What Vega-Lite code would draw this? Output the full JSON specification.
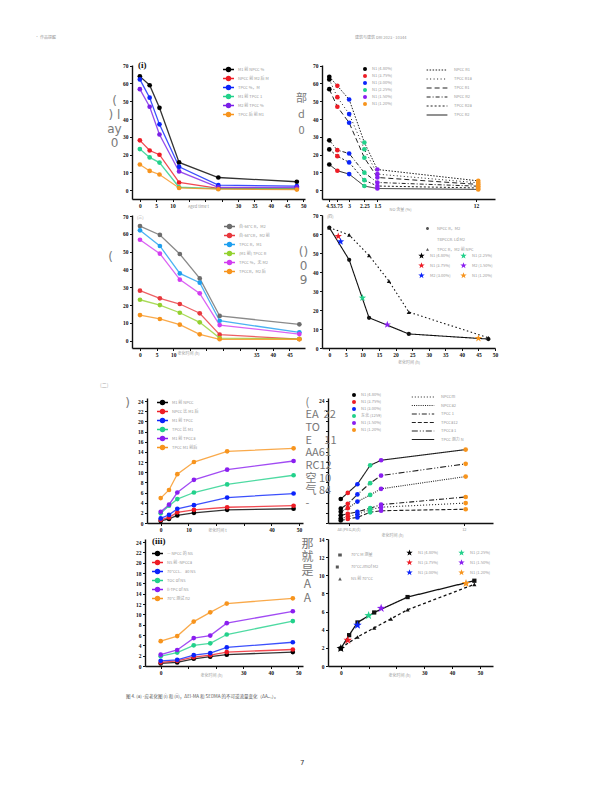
{
"$schema":"https://vega.github.io/schema/vega-lite/v6.json",
"background":"white",
"padding":{"left":35,"top":35,"right":5,"bottom":5},
"bounds":"flush",
"columns":2,
"align":"each",
"spacing":{"row":16,"column":23},
"resolve":{"scale":{"color":"independent","stroke":"independent","strokeDash":"independent","shape":"independent","fill":"independent"},"legend":{"color":"independent","stroke":"independent","strokeDash":"independent","shape":"independent","fill":"independent"}},
"title":{"text":"7","orient":"bottom","anchor":"start","frame":"group","dx":153,"offset":60,"fontSize":7,"font":"DejaVu Sans","color":"#333","fontWeight":"normal"},
"datasets":{
"A":[
{"s":"M1 前 NPCC %","t":0,"v":64},{"s":"M1 前 NPCC %","t":3,"v":59},{"s":"M1 前 NPCC %","t":6,"v":46.3},{"s":"M1 前 NPCC %","t":12,"v":15.6},{"s":"M1 前 NPCC %","t":24,"v":7.1},{"s":"M1 前 NPCC %","t":48,"v":4.7},
{"s":"NPCC 前 M2 后 M","t":0,"v":28},{"s":"NPCC 前 M2 后 M","t":3,"v":22.3},{"s":"NPCC 前 M2 后 M","t":6,"v":19.9},{"s":"NPCC 前 M2 后 M","t":12,"v":4.3},{"s":"NPCC 前 M2 后 M","t":24,"v":1.0},{"s":"NPCC 前 M2 后 M","t":48,"v":0.8},
{"s":"TPCC %，M","t":0,"v":62.3},{"s":"TPCC %，M","t":3,"v":52},{"s":"TPCC %，M","t":6,"v":37},{"s":"TPCC %，M","t":12,"v":13.1},{"s":"TPCC %，M","t":24,"v":2.8},{"s":"TPCC %，M","t":48,"v":2.2},
{"s":"M1 前 TPCC 1","t":0,"v":23.1},{"s":"M1 前 TPCC 1","t":3,"v":18.4},{"s":"M1 前 TPCC 1","t":6,"v":15.5},{"s":"M1 前 TPCC 1","t":12,"v":1.6},{"s":"M1 前 TPCC 1","t":24,"v":0.8},{"s":"M1 前 TPCC 1","t":48,"v":0.7},
{"s":"M2 前 TPCC %","t":0,"v":56.8},{"s":"M2 前 TPCC %","t":3,"v":46.9},{"s":"M2 前 TPCC %","t":6,"v":31.3},{"s":"M2 前 TPCC %","t":12,"v":10.5},{"s":"M2 前 TPCC %","t":24,"v":1.5},{"s":"M2 前 TPCC %","t":48,"v":1.5},
{"s":"TPCC 后 前 M1","t":0,"v":14.4},{"s":"TPCC 后 前 M1","t":3,"v":10.8},{"s":"TPCC 后 前 M1","t":6,"v":8.8},{"s":"TPCC 后 前 M1","t":12,"v":1.2},{"s":"TPCC 后 前 M1","t":24,"v":0.5},{"s":"TPCC 后 前 M1","t":48,"v":0.3}
],
"B":[
{"l":"NPCC R1","c":"N1 (4.80%)","x":0,"v":63.8},{"l":"NPCC R1","c":"N1 (3.75%)","x":2.6,"v":58.7},{"l":"NPCC R1","c":"N1 (3.00%)","x":6.4,"v":51},{"l":"NPCC R1","c":"N1 (2.25%)","x":11.3,"v":26.8},{"l":"NPCC R1","c":"N1 (1.50%)","x":15.5,"v":11.6},{"l":"NPCC R1","c":"N1 (1.20%)","x":48,"v":5.2},
{"l":"TPCC R1a","c":"N1 (4.80%)","x":0,"v":62.3},{"l":"TPCC R1a","c":"N1 (3.75%)","x":2.6,"v":52.3},{"l":"TPCC R1a","c":"N1 (3.00%)","x":6.4,"v":42.8},{"l":"TPCC R1a","c":"N1 (2.25%)","x":11.3,"v":23},{"l":"TPCC R1a","c":"N1 (1.50%)","x":15.5,"v":9},{"l":"TPCC R1a","c":"N1 (1.20%)","x":48,"v":4.1},
{"l":"TPCC R1","c":"N1 (4.80%)","x":0,"v":56.8},{"l":"TPCC R1","c":"N1 (3.75%)","x":2.6,"v":46.9},{"l":"TPCC R1","c":"N1 (3.00%)","x":6.4,"v":37.9},{"l":"TPCC R1","c":"N1 (2.25%)","x":11.3,"v":18.2},{"l":"TPCC R1","c":"N1 (1.50%)","x":15.5,"v":7.1},{"l":"TPCC R1","c":"N1 (1.20%)","x":48,"v":3.2},
{"l":"NPCC R2","c":"N1 (4.80%)","x":0,"v":28},{"l":"NPCC R2","c":"N1 (3.75%)","x":2.6,"v":22.5},{"l":"NPCC R2","c":"N1 (3.00%)","x":6.4,"v":20.6},{"l":"NPCC R2","c":"N1 (2.25%)","x":11.3,"v":9.8},{"l":"NPCC R2","c":"N1 (1.50%)","x":15.5,"v":4.3},{"l":"NPCC R2","c":"N1 (1.20%)","x":48,"v":2.2},
{"l":"TPCC R2a","c":"N1 (4.80%)","x":0,"v":22.9},{"l":"TPCC R2a","c":"N1 (3.75%)","x":2.6,"v":19.1},{"l":"TPCC R2a","c":"N1 (3.00%)","x":6.4,"v":15.6},{"l":"TPCC R2a","c":"N1 (2.25%)","x":11.3,"v":5.6},{"l":"TPCC R2a","c":"N1 (1.50%)","x":15.5,"v":2.3},{"l":"TPCC R2a","c":"N1 (1.20%)","x":48,"v":1.2},
{"l":"TPCC R2","c":"N1 (4.80%)","x":0,"v":14.4},{"l":"TPCC R2","c":"N1 (3.75%)","x":2.6,"v":10.9},{"l":"TPCC R2","c":"N1 (3.00%)","x":6.4,"v":9},{"l":"TPCC R2","c":"N1 (2.25%)","x":11.3,"v":2.3},{"l":"TPCC R2","c":"N1 (1.50%)","x":15.5,"v":0.9},{"l":"TPCC R2","c":"N1 (1.20%)","x":48,"v":0.4}
],
"C":[
{"s":"自-64°C R，M2","t":0,"v":64.4},{"s":"自-64°C R，M2","t":6,"v":59.4},{"s":"自-64°C R，M2","t":12,"v":48.7},{"s":"自-64°C R，M2","t":18,"v":35},{"s":"自-64°C R，M2","t":24,"v":13.9},{"s":"自-64°C R，M2","t":48,"v":9.2},
{"s":"自-64°CR，M2 前","t":0,"v":28.1},{"s":"自-64°CR，M2 前","t":6,"v":23.8},{"s":"自-64°CR，M2 前","t":12,"v":20.6},{"s":"自-64°CR，M2 前","t":18,"v":15.4},{"s":"自-64°CR，M2 前","t":24,"v":3.4},{"s":"自-64°CR，M2 前","t":48,"v":0.9},
{"s":"TPCC R，M1","t":0,"v":62},{"s":"TPCC R，M1","t":6,"v":53.2},{"s":"TPCC R，M1","t":12,"v":37.8},{"s":"TPCC R，M1","t":18,"v":32.6},{"s":"TPCC R，M1","t":24,"v":11.2},{"s":"TPCC R，M1","t":48,"v":4.7},
{"s":"(M1 前) TPCC R","t":0,"v":23},{"s":"(M1 前) TPCC R","t":6,"v":20},{"s":"(M1 前) TPCC R","t":12,"v":15.7},{"s":"(M1 前) TPCC R","t":18,"v":10.3},{"s":"(M1 前) TPCC R","t":24,"v":1.5},{"s":"(M1 前) TPCC R","t":48,"v":1.0},
{"s":"TPCC %，无 M2","t":0,"v":56.7},{"s":"TPCC %，无 M2","t":6,"v":48.9},{"s":"TPCC %，无 M2","t":12,"v":34.3},{"s":"TPCC %，无 M2","t":18,"v":26.6},{"s":"TPCC %，无 M2","t":24,"v":8.8},{"s":"TPCC %，无 M2","t":48,"v":3.7},
{"s":"TPCCR，M2 后","t":0,"v":14.4},{"s":"TPCCR，M2 后","t":6,"v":12.2},{"s":"TPCCR，M2 后","t":12,"v":9},{"s":"TPCCR，M2 后","t":18,"v":3.6},{"s":"TPCCR，M2 后","t":24,"v":0.8},{"s":"TPCCR，M2 后","t":48,"v":0.8}
],
"DL":[
{"s":"NPCC R，M2","t":0,"v":63.4},{"s":"NPCC R，M2","t":6,"v":46.4},{"s":"NPCC R，M2","t":12,"v":15.9},{"s":"NPCC R，M2","t":24,"v":7.4},{"s":"NPCC R，M2","t":48,"v":4.7},
{"s":"TPCC R，M2 前 NPC","t":0,"v":63.4},{"s":"TPCC R，M2 前 NPC","t":6,"v":59.5},{"s":"TPCC R，M2 前 NPC","t":12,"v":48.7},{"s":"TPCC R，M2 前 NPC","t":18,"v":35.2},{"s":"TPCC R，M2 前 NPC","t":24,"v":18.9},{"s":"TPCC R，M2 前 NPC","t":48,"v":5.4}
],
"DS":[
{"c":"N1 (3.75%)","t":2.7,"v":58.8},{"c":"M2 (3.00%)","t":3.4,"v":56},{"c":"N1 (2.25%)","t":10,"v":26.4},{"c":"M2 (1.50%)","t":17.5,"v":12.3},{"c":"N1 (1.20%)","t":45,"v":5.1}
],
"E":[
{"s":"M1 前 NPCC","t":0,"v":0.4},{"s":"M1 前 NPCC","t":3,"v":0.8},{"s":"M1 前 NPCC","t":6,"v":1.5},{"s":"M1 前 NPCC","t":12,"v":2.0},{"s":"M1 前 NPCC","t":24,"v":2.6},{"s":"M1 前 NPCC","t":48,"v":2.8},
{"s":"NPCC 比 M1 后","t":0,"v":0.6},{"s":"NPCC 比 M1 后","t":3,"v":1.1},{"s":"NPCC 比 M1 后","t":6,"v":2.1},{"s":"NPCC 比 M1 后","t":12,"v":2.6},{"s":"NPCC 比 M1 后","t":24,"v":3.1},{"s":"NPCC 比 M1 后","t":48,"v":3.4},
{"s":"M1 前 TPCC","t":0,"v":0.9},{"s":"M1 前 TPCC","t":3,"v":1.6},{"s":"M1 前 TPCC","t":6,"v":2.8},{"s":"M1 前 TPCC","t":12,"v":3.5},{"s":"M1 前 TPCC","t":24,"v":5.0},{"s":"M1 前 TPCC","t":48,"v":5.8},
{"s":"TPCC 比 M1","t":0,"v":1.9},{"s":"TPCC 比 M1","t":3,"v":3.4},{"s":"TPCC 比 M1","t":6,"v":4.7},{"s":"TPCC 比 M1","t":12,"v":6.0},{"s":"TPCC 比 M1","t":24,"v":7.6},{"s":"TPCC 比 M1","t":48,"v":9.4},
{"s":"M1 前 TPCCa","t":0,"v":2.2},{"s":"M1 前 TPCCa","t":3,"v":3.6},{"s":"M1 前 TPCCa","t":6,"v":6.0},{"s":"M1 前 TPCCa","t":12,"v":8.5},{"s":"M1 前 TPCCa","t":24,"v":10.5},{"s":"M1 前 TPCCa","t":48,"v":12.2},
{"s":"TPCC M1 前后","t":0,"v":4.9},{"s":"TPCC M1 前后","t":3,"v":6.5},{"s":"TPCC M1 前后","t":6,"v":9.6},{"s":"TPCC M1 前后","t":12,"v":12.0},{"s":"TPCC M1 前后","t":24,"v":14.1},{"s":"TPCC M1 前后","t":48,"v":14.7}
],
"F":[
{"l":"TPCC 测力 N","c":"N1 (4.80%)","x":0,"v":4.7},{"l":"TPCC 测力 N","c":"N1 (3.75%)","x":2.7,"v":5.9},{"l":"TPCC 测力 N","c":"N1 (3.00%)","x":6.4,"v":7.6},{"l":"TPCC 测力 N","c":"东北 (1259)","x":11.3,"v":11.3},{"l":"TPCC 测力 N","c":"N1 (1.50%)","x":15.5,"v":12.3},{"l":"TPCC 测力 N","c":"N1 (1.20%)","x":48,"v":14.4},
{"l":"TPCCa 1","c":"N1 (4.80%)","x":0,"v":2.8},{"l":"TPCCa 1","c":"N1 (3.75%)","x":2.7,"v":3.75},{"l":"TPCCa 1","c":"N1 (3.00%)","x":6.4,"v":5.6},{"l":"TPCCa 1","c":"东北 (1259)","x":11.3,"v":7.8},{"l":"TPCCa 1","c":"N1 (1.50%)","x":15.5,"v":9.3},{"l":"TPCCa 1","c":"N1 (1.20%)","x":48,"v":11.6},
{"l":"NPCCa2","c":"N1 (4.80%)","x":0,"v":2.2},{"l":"NPCCa2","c":"N1 (3.75%)","x":2.7,"v":2.9},{"l":"NPCCa2","c":"N1 (3.00%)","x":6.4,"v":4.2},{"l":"NPCCa2","c":"东北 (1259)","x":11.3,"v":5.5},{"l":"NPCCa2","c":"N1 (1.50%)","x":15.5,"v":6.7},{"l":"NPCCa2","c":"N1 (1.20%)","x":48,"v":9.1},
{"l":"TPCC 1","c":"N1 (4.80%)","x":0,"v":1.5},{"l":"TPCC 1","c":"N1 (3.75%)","x":2.7,"v":1.8},{"l":"TPCC 1","c":"N1 (3.00%)","x":6.4,"v":2.2},{"l":"TPCC 1","c":"东北 (1259)","x":11.3,"v":2.9},{"l":"TPCC 1","c":"N1 (1.50%)","x":15.5,"v":3.6},{"l":"TPCC 1","c":"N1 (1.20%)","x":48,"v":5.1},
{"l":"NPCCm","c":"N1 (4.80%)","x":0,"v":0.9},{"l":"NPCCm","c":"N1 (3.75%)","x":2.7,"v":1.25},{"l":"NPCCm","c":"N1 (3.00%)","x":6.4,"v":1.7},{"l":"NPCCm","c":"东北 (1259)","x":11.3,"v":2.6},{"l":"NPCCm","c":"N1 (1.50%)","x":15.5,"v":3.1},{"l":"NPCCm","c":"N1 (1.20%)","x":48,"v":3.9},
{"l":"TPCCa12","c":"N1 (4.80%)","x":0,"v":0.5},{"l":"TPCCa12","c":"N1 (3.75%)","x":2.7,"v":0.8},{"l":"TPCCa12","c":"N1 (3.00%)","x":6.4,"v":1.1},{"l":"TPCCa12","c":"东北 (1259)","x":11.3,"v":2.1},{"l":"TPCCa12","c":"N1 (1.50%)","x":15.5,"v":2.4},{"l":"TPCCa12","c":"N1 (1.20%)","x":48,"v":2.7}
],
"G":[
{"s":"— NPCC 的 NS","t":0,"v":0.5},{"s":"— NPCC 的 NS","t":6,"v":0.7},{"s":"— NPCC 的 NS","t":12,"v":1.4},{"s":"— NPCC 的 NS","t":18,"v":1.8},{"s":"— NPCC 的 NS","t":24,"v":2.2},{"s":"— NPCC 的 NS","t":48,"v":2.7},
{"s":"NS 前 -NPCCa","t":0,"v":0.7},{"s":"NS 前 -NPCCa","t":6,"v":1.0},{"s":"NS 前 -NPCCa","t":12,"v":1.7},{"s":"NS 前 -NPCCa","t":18,"v":2.1},{"s":"NS 前 -NPCCa","t":24,"v":2.7},{"s":"NS 前 -NPCCa","t":48,"v":3.2},
{"s":"70°CCL、 a0 NS","t":0,"v":1.0},{"s":"70°CCL、 a0 NS","t":6,"v":1.2},{"s":"70°CCL、 a0 NS","t":12,"v":2.1},{"s":"70°CCL、 a0 NS","t":18,"v":2.5},{"s":"70°CCL、 a0 NS","t":24,"v":3.6},{"s":"70°CCL、 a0 NS","t":48,"v":4.6},
{"s":"TOC of NS","t":0,"v":1.9},{"s":"TOC of NS","t":6,"v":2.6},{"s":"TOC of NS","t":12,"v":4.0},{"s":"TOC of NS","t":18,"v":4.4},{"s":"TOC of NS","t":24,"v":6.1},{"s":"TOC of NS","t":48,"v":8.7},
{"s":"ll-TPC of NS","t":0,"v":2.2},{"s":"ll-TPC of NS","t":6,"v":3.1},{"s":"ll-TPC of NS","t":12,"v":5.4},{"s":"ll-TPC of NS","t":18,"v":5.9},{"s":"ll-TPC of NS","t":24,"v":8.3},{"s":"ll-TPC of NS","t":48,"v":10.6},
{"s":"70°C 测试 n2","t":0,"v":4.8},{"s":"70°C 测试 n2","t":6,"v":5.8},{"s":"70°C 测试 n2","t":12,"v":8.6},{"s":"70°C 测试 n2","t":18,"v":10.4},{"s":"70°C 测试 n2","t":24,"v":12.1},{"s":"70°C 测试 n2","t":48,"v":13.1}
],
"HL":[
{"s":"70°C M 测量","t":0,"v":1.93},{"s":"70°C M 测量","t":3,"v":3.4},{"s":"70°C M 测量","t":6,"v":4.8},{"s":"70°C M 测量","t":12,"v":5.9},{"s":"70°C M 测量","t":24,"v":7.6},{"s":"70°C M 测量","t":48,"v":9.4},
{"s":"NS 前 70°CC","t":0,"v":2.0},{"s":"NS 前 70°CC","t":6,"v":3.2},{"s":"NS 前 70°CC","t":12,"v":4.2},{"s":"NS 前 70°CC","t":18,"v":5.2},{"s":"NS 前 70°CC","t":24,"v":6.2},{"s":"NS 前 70°CC","t":48,"v":9.0}
],
"HS":[
{"c":"N1 (4.80%)","t":0,"v":1.93},{"c":"N1 (3.75%)","t":2.5,"v":2.84},{"c":"N1 (3.00%)","t":6,"v":4.5},{"c":"N1 (2.25%)","t":10,"v":5.56},{"c":"N1 (1.50%)","t":14.5,"v":6.36},{"c":"N1 (1.20%)","t":45,"v":9.1}
]
},
"concat":[
{
"width":158,"height":134,
"data":{"name":"A"},
"title":{"text":"(i)","anchor":"start","frame":"group","font":"Liberation Serif","fontSize":9,"fontWeight":"bold","color":"#111","dx":-9,"offset":-6},
"encoding":{
"x":{"field":"t","type":"quantitative","scale":{"domain":[-2.4,50.5],"range":[-15,158],"nice":false,"zero":false},"axis":{"values":[0,5,10,15,20,25,30,35,40,45,50],"labelExpr":"indexof([15,20,25], datum.value) >= 0 ? '' : datum.label","title":"Aged time t","titleX":51,"titleY":7,"titleBaseline":"middle"}},
"y":{"field":"v","type":"quantitative","scale":{"domain":[-5,70.4],"nice":false,"zero":false},"axis":{"offset":15,"values":[0,10,20,30,40,50,60,70],"title":["(",") l","ay","0"],"titleAngle":0,"titleAlign":"center","titleBaseline":"top","titleX":-18,"titleY":30,"titleFontSize":12,"titleLineHeight":14,"titleColor":"#7a7a7a","titleFont":"DejaVu Sans"}},
"color":{"field":"s","type":"nominal","scale":{"domain":["M1 前 NPCC %","NPCC 前 M2 后 M","TPCC %，M","M1 前 TPCC 1","M2 前 TPCC %","TPCC 后 前 M1"],"range":["#000000","#ee1c25","#0b24fb","#22d18b","#7b1fe8","#f7941d"]},"legend":{"orient":"none","legendX":78,"legendY":1,"title":null,"symbolType":"M-2,0H2M-0.75,0A0.75,0.75 0 1,0 0.75,0A0.75,0.75 0 1,0 -0.75,0Z","symbolSize":30,"symbolStrokeWidth":1.3,"rowPadding":-2.6,"labelOffset":6}}
},
"layer":[
{"mark":{"type":"line","strokeWidth":1.3,"strokeOpacity":0.8}},
{"mark":{"type":"point","filled":true,"size":22,"opacity":1}}
]
},
{
"width":167,"height":134,
"data":{"name":"B"},
"title":{"text":"建筑与建筑 DRI 2023 - 10344","anchor":"start","frame":"group","fontSize":4,"color":"#999","fontWeight":"normal","dx":27,"offset":24},
"encoding":{
"x":{"field":"x","type":"quantitative","scale":{"domain":[-2.35,53.4],"range":[-6,167],"nice":false,"zero":false},"axis":{"values":[0,2.6,6.4,11.3,15.5,47.3],"labelExpr":"datum.value == 0 ? '4.5' : datum.value == 2.6 ? '3.75' : datum.value == 6.4 ? '3' : datum.value == 11.3 ? '2.25' : datum.value == 15.5 ? '1.5' : '12'","title":"NO 含量 (%)","titleX":72,"titleY":10,"titleBaseline":"middle"}},
"y":{"field":"v","type":"quantitative","scale":{"domain":[-5,70.4],"nice":false,"zero":false},"axis":{"offset":6,"values":[0,10,20,30,40,50,60,70],"title":["部","d","0"],"titleAngle":0,"titleAlign":"center","titleBaseline":"top","titleX":-21,"titleY":27,"titleFontSize":11,"titleLineHeight":16,"titleColor":"#7a7a7a","titleFont":"Noto Sans CJK SC"}}
},
"layer":[
{"mark":{"type":"line","strokeWidth":1,"color":"#222"},"encoding":{"strokeDash":{"field":"l","type":"nominal","scale":{"domain":["NPCC R1","TPCC R1a","TPCC R1","NPCC R2","TPCC R2a","TPCC R2"],"range":[[1.5,1.5],[1,2.5],[5,3],[4,2,1,2],[2,2],[1,0]]},"legend":{"orient":"none","legendX":104,"legendY":0,"title":null,"symbolType":"M-2.6,0H2.6","symbolSize":64,"symbolStrokeWidth":1.2,"symbolStrokeColor":"#222","rowPadding":1,"labelOffset":12}}}},
{"mark":{"type":"point","filled":true,"size":22,"opacity":1},"encoding":{"color":{"field":"c","type":"nominal","scale":{"domain":["N1 (4.80%)","N1 (3.75%)","N1 (3.00%)","N1 (2.25%)","N1 (1.50%)","N1 (1.20%)"],"range":["#000000","#ee1c25","#0b24fb","#22d18b","#8a1ef0","#f7941d"]},"legend":{"orient":"none","legendX":34,"legendY":1,"title":null,"symbolType":"circle","symbolSize":16,"rowPadding":2}}}}
]
},
{
"width":158,"height":133,
"data":{"name":"C"},
"title":{"text":"(三)","anchor":"start","frame":"group","fontSize":4,"color":"#999","fontWeight":"normal","dx":-10,"offset":-6},
"encoding":{
"x":{"field":"t","type":"quantitative","scale":{"domain":[-2.4,49.7],"range":[-15,158],"nice":false,"zero":false},"axis":{"values":[0,5,10,15,20,25,30,35,40,45],"labelExpr":"indexof([15,20,25,30], datum.value) >= 0 ? '' : datum.label","title":"老化时间 (h)","titleX":41,"titleY":5,"titleBaseline":"middle"}},
"y":{"field":"v","type":"quantitative","scale":{"domain":[-4.1,70.6],"nice":false,"zero":false},"axis":{"offset":15,"values":[0,10,20,30,40,50,60,70],"title":["("],"titleAngle":0,"titleAlign":"center","titleBaseline":"top","titleX":-22,"titleY":36,"titleFontSize":12,"titleColor":"#7a7a7a","titleFont":"DejaVu Sans"}},
"color":{"field":"s","type":"nominal","scale":{"domain":["自-64°C R，M2","自-64°CR，M2 前","TPCC R，M1","(M1 前) TPCC R","TPCC %，无 M2","TPCCR，M2 后"],"range":["#6d6d6d","#e8383d","#1e9fef","#93d12f","#d23cf0","#f7941d"]},"legend":{"orient":"none","legendX":79,"legendY":8,"title":null,"symbolType":"M-2,0H2M-0.75,0A0.75,0.75 0 1,0 0.75,0A0.75,0.75 0 1,0 -0.75,0Z","symbolSize":30,"symbolStrokeWidth":1.3,"rowPadding":-2.2,"labelOffset":6}}
},
"layer":[
{"mark":{"type":"line","strokeWidth":1.3,"strokeOpacity":0.8}},
{"mark":{"type":"point","filled":true,"size":22,"opacity":1}}
]
},
{
"width":167,"height":133,
"title":{"text":"(四)","anchor":"start","frame":"group","fontSize":4,"color":"#999","fontWeight":"normal","dx":-1,"offset":-6},
"resolve":{"scale":{"shape":"independent"},"legend":{"shape":"independent"}},
"encoding":{
"x":{"field":"t","type":"quantitative","scale":{"domain":[-2.2,50],"range":[-6,167],"nice":false,"zero":false},"axis":{"values":[0,5,10,15,20,25,30,35,40,45,50],"title":"老化时间 (h)","titlePadding":3}},
"y":{"field":"v","type":"quantitative","scale":{"domain":[0,70],"nice":false,"zero":false},"axis":{"offset":6,"values":[0,10,20,30,40,50,60,70],"title":["()","0","9"],"titleAngle":0,"titleAlign":"center","titleBaseline":"top","titleX":-19,"titleY":31,"titleFontSize":12,"titleLineHeight":14,"titleColor":"#7a7a7a","titleFont":"DejaVu Sans"}}
},
"layer":[
{"data":{"name":"DL"},"mark":{"type":"line","strokeWidth":1.1,"color":"#111"},"encoding":{"strokeDash":{"field":"s","type":"nominal","scale":{"domain":["NPCC R，M2","TBPCCR. Ld M2","TPCC R，M2 前 NPC"],"range":[[1,0],[1,0],[1.5,2.5]]},"legend":null}}},
{"data":{"name":"DL"},"mark":{"type":"point","filled":true,"size":18,"color":"#111","opacity":1},"encoding":{"shape":{"field":"s","type":"nominal","scale":{"domain":["NPCC R，M2","TBPCCR. Ld M2","TPCC R，M2 前 NPC"],"range":["circle","circle","triangle-up"]},"legend":null}}},
{"data":{"name":"DS"},"mark":{"type":"point","filled":true,"size":60,"opacity":1,"shape":"M0,-1L0.235,-0.324L0.951,-0.309L0.38,0.124L0.588,0.809L0,0.4L-0.588,0.809L-0.38,0.124L-0.951,-0.309L-0.235,-0.324Z"},"encoding":{"color":{"field":"c","type":"nominal","scale":{"domain":["N1 (4.80%)","N1 (3.75%)","M2 (3.00%)","N1 (2.25%)","M2 (1.50%)","N1 (1.20%)"],"range":["#000000","#ee1c25","#0b24fb","#22d18b","#8a1ef0","#f7941d"]},"legend":{"orient":"none","legendX":89,"legendY":36,"columns":2,"columnPadding":8,"title":null,"symbolType":"M0,-1L0.235,-0.324L0.951,-0.309L0.38,0.124L0.588,0.809L0,0.4L-0.588,0.809L-0.38,0.124L-0.951,-0.309L-0.235,-0.324Z","symbolSize":45,"rowPadding":2}}}},
{"data":{"values":[]},"mark":{"type":"point","filled":true,"color":"#111"},"encoding":{"shape":{"field":"s","type":"nominal","scale":{"domain":["NPCC R，M2","TBPCCR. Ld M2","TPCC R，M2 前 NPC"],"range":["M-1,0H1M-0.3,0A0.3,0.3 0 1,0 0.3,0A0.3,0.3 0 1,0 -0.3,0Z","M0,0L0,0","M-1,0H-0.8M-0.6,0H-0.4M0.4,0H0.6M0.8,0H1M0,-0.3L0.3,0.25H-0.3Z"]},"legend":{"orient":"none","legendX":94,"legendY":8,"title":null,"symbolSize":100,"symbolStrokeColor":"#111","symbolStrokeWidth":1,"symbolFillColor":"#111","rowPadding":2}}}}
]
},
{"width":1,"height":18,"data":{"values":[{"a":1}]},"mark":{"type":"point","opacity":0},"encoding":{}},
{"width":1,"height":18,"data":{"values":[{"a":1}]},"mark":{"type":"point","opacity":0},"encoding":{}},
{
"width":158,"height":125,
"data":{"name":"E"},
"title":{"text":"(二)","anchor":"start","frame":"group","fontSize":5,"color":"#aaa","fontWeight":"normal","dx":-47,"offset":8},
"encoding":{
"x":{"field":"t","type":"quantitative","scale":{"domain":[-4.95,51.4],"range":[0,156],"nice":false,"zero":false},"axis":{"values":[0,10,20,30,40,50],"labelExpr":"datum.value == 20 || datum.value == 30 ? '' : datum.label","title":"老化时间 t","titleX":70,"titleY":7,"titleBaseline":"middle"}},
"y":{"field":"v","type":"quantitative","scale":{"domain":[0,24.6],"nice":false,"zero":false},"axis":{"values":[0,2,4,6,8,10,12,14,16,18,20,22,24],"title":[")"],"titleAngle":0,"titleAlign":"center","titleBaseline":"top","titleX":-20,"titleY":-1,"titleFontSize":12,"titleColor":"#7a7a7a","titleFont":"DejaVu Sans"}},
"color":{"field":"s","type":"nominal","scale":{"domain":["M1 前 NPCC","NPCC 比 M1 后","M1 前 TPCC","TPCC 比 M1","M1 前 TPCCa","TPCC M1 前后"],"range":["#000000","#ee1c25","#0b24fb","#22d18b","#8a1ef0","#f7941d"]},"legend":{"orient":"none","legendX":12,"legendY":1,"title":null,"symbolType":"M-2,0H2M-0.75,0A0.75,0.75 0 1,0 0.75,0A0.75,0.75 0 1,0 -0.75,0Z","symbolSize":30,"symbolStrokeWidth":1.3,"rowPadding":-2,"labelOffset":6}}
},
"layer":[
{"mark":{"type":"line","strokeWidth":1.3,"strokeOpacity":0.8}},
{"mark":{"type":"point","filled":true,"size":22,"opacity":1}}
]
},
{
"width":167,"height":125,
"data":{"name":"F"},
"title":{"text":"图 4. (a) -应老化图 (i) 和 (ii)，ΔEI-MA 和 SEDMA 的不可逆流量变化（ΔAₐₒ₁）。","orient":"bottom","anchor":"start","frame":"group","dx":-202,"offset":157,"fontSize":4.5,"color":"#555","font":"Noto Sans CJK SC","fontWeight":"normal"},
"encoding":{
"x":{"field":"x","type":"quantitative","scale":{"domain":[-4.9,58.5],"range":[0,165],"nice":false,"zero":false},"axis":{"values":[3,47.3],"labelExpr":"datum.value < 10 ? 'ΔE(PEG,B)(t)' : '12'","labelFont":"Noto Sans CJK SC","labelFontWeight":"normal","labelFontSize":4,"labelColor":"#999","title":"老化时间 (h)","titleX":64,"titleY":12,"titleBaseline":"middle"}},
"y":{"field":"v","type":"quantitative","scale":{"domain":[0,24.5],"nice":false,"zero":false},"axis":{"values":[0,2,4,6,8,10,12,14,16,18,20,22,24],"labelExpr":"datum.value == 24 ? '24' : ''","title":["(","EA\u00a0\u00a022","TO","E\u00a0\u00a0\u00a0\u00a0\u00a011","AA61","RC12","空 10","气 84","-"],"titleAngle":0,"titleAlign":"left","titleBaseline":"top","titleX":-23,"titleY":-2,"titleFontSize":11,"titleLineHeight":12.7,"titleColor":"#777","titleFont":"Noto Sans CJK SC"}}
},
"layer":[
{"mark":{"type":"line","strokeWidth":1.1,"color":"#222"},"encoding":{"strokeDash":{"field":"l","type":"nominal","scale":{"domain":["NPCCm","NPCCa2","TPCC 1","TPCCa12","TPCCa 1","TPCC 测力 N"],"range":[[1,2],[1,1.2],[5,2,1,2],[4,2],[6,2,1,2,1,2],[1,0]]},"legend":{"orient":"none","legendX":90,"legendY":-6,"title":null,"symbolType":"M-2.8,0H2.8","symbolSize":64,"symbolStrokeWidth":1.1,"symbolStrokeColor":"#222","rowPadding":0.5,"labelOffset":13}}}},
{"mark":{"type":"point","filled":true,"size":22,"opacity":1},"encoding":{"color":{"field":"c","type":"nominal","scale":{"domain":["N1 (4.80%)","N1 (3.75%)","N1 (3.00%)","东北 (1259)","N1 (1.50%)","N1 (1.20%)"],"range":["#000000","#ee1c25","#0b24fb","#22d18b","#8a1ef0","#f7941d"]},"legend":{"orient":"none","legendX":23,"legendY":-6,"title":null,"symbolType":"circle","symbolSize":16,"rowPadding":2}}}}
]
},
{
"width":158,"height":127,
"data":{"name":"G"},
"title":{"text":"(iii)","anchor":"start","frame":"group","font":"Liberation Serif","fontSize":9,"fontWeight":"bold","color":"#111","dx":5,"offset":-7},
"encoding":{
"x":{"field":"t","type":"quantitative","scale":{"domain":[-5.7,51.7],"range":[-2,156],"nice":false,"zero":false},"axis":{"values":[0,10,20,30,40,50],"labelExpr":"datum.value == 10 || datum.value == 20 ? '' : datum.label","title":"老化时间 (h)","titleX":64,"titleY":9,"titleBaseline":"middle"}},
"y":{"field":"v","type":"quantitative","scale":{"domain":[0,24.6],"nice":false,"zero":false},"axis":{"offset":2,"values":[0,2,4,6,8,10,12,14,16,18,20,22,24],"title":null}},
"color":{"field":"s","type":"nominal","scale":{"domain":["— NPCC 的 NS","NS 前 -NPCCa","70°CCL、 a0 NS","TOC of NS","ll-TPC of NS","70°C 测试 n2"],"range":["#000000","#ee1c25","#0b24fb","#22d18b","#8a1ef0","#f7941d"]},"legend":{"orient":"none","legendX":7,"legendY":11,"title":null,"symbolType":"M-2,0H2M-0.75,0A0.75,0.75 0 1,0 0.75,0A0.75,0.75 0 1,0 -0.75,0Z","symbolSize":30,"symbolStrokeWidth":1.3,"rowPadding":-2.7,"labelOffset":6}}
},
"layer":[
{"mark":{"type":"line","strokeWidth":1.3,"strokeOpacity":0.8}},
{"mark":{"type":"point","filled":true,"size":22,"opacity":1}}
]
},
{
"width":167,"height":127,
"title":{"text":"• 作品提醒","anchor":"start","frame":"group","fontSize":4,"color":"#999","fontWeight":"normal","dx":-293,"offset":497},
"resolve":{"scale":{"shape":"independent"},"legend":{"shape":"independent"}},
"encoding":{
"x":{"field":"t","type":"quantitative","scale":{"domain":[-4.6,54.7],"range":[0,165],"nice":false,"zero":false},"axis":{"values":[0,10,20,30,40,50],"labelExpr":"datum.value == 10 || datum.value == 20 ? '' : datum.label","title":"老化时间 (h)","titleX":71,"titleY":9,"titleBaseline":"middle"}},
"y":{"field":"v","type":"quantitative","scale":{"domain":[0,14],"nice":false,"zero":false},"axis":{"values":[0,2,4,6,8,10,12,14],"title":["那","就","是","A","A"],"titleAngle":0,"titleAlign":"center","titleBaseline":"top","titleX":-21,"titleY":-1,"titleFontSize":12,"titleLineHeight":13.5,"titleColor":"#777","titleFont":"Noto Sans CJK SC"}}
},
"layer":[
{"data":{"name":"HL"},"mark":{"type":"line","strokeWidth":1.3,"color":"#111"},"encoding":{"strokeDash":{"field":"s","type":"nominal","scale":{"domain":["70°C M 测量","70°CCJmOf M2","NS 前 70°CC"],"range":[[1,0],[1,0],[3,2.5]]},"legend":null}}},
{"data":{"name":"HL"},"mark":{"type":"point","filled":true,"size":18,"color":"#111","opacity":1},"encoding":{"shape":{"field":"s","type":"nominal","scale":{"domain":["70°C M 测量","70°CCJmOf M2","NS 前 70°CC"],"range":["square","square","triangle-up"]},"legend":null}}},
{"data":{"name":"HS"},"mark":{"type":"point","filled":true,"size":80,"opacity":1,"shape":"M0,-1L0.235,-0.324L0.951,-0.309L0.38,0.124L0.588,0.809L0,0.4L-0.588,0.809L-0.38,0.124L-0.951,-0.309L-0.235,-0.324Z"},"encoding":{"color":{"field":"c","type":"nominal","scale":{"domain":["N1 (4.80%)","N1 (3.75%)","N1 (3.00%)","N1 (2.25%)","N1 (1.50%)","N1 (1.20%)"],"range":["#000000","#ee1c25","#0b24fb","#22d18b","#8a1ef0","#f7941d"]},"legend":{"orient":"none","legendX":77,"legendY":9,"columns":2,"columnPadding":18,"title":null,"symbolType":"M0,-1L0.235,-0.324L0.951,-0.309L0.38,0.124L0.588,0.809L0,0.4L-0.588,0.809L-0.38,0.124L-0.951,-0.309L-0.235,-0.324Z","symbolSize":45,"rowPadding":2}}}},
{"data":{"values":[]},"mark":{"type":"point","filled":true,"color":"#111"},"encoding":{"shape":{"field":"s","type":"nominal","scale":{"domain":["70°C M 测量","70°CCJmOf M2","NS 前 70°CC"],"range":["M-1,0H1M-0.3,-0.25H0.3V0.25H-0.3Z","M-0.7,-0.25H-0.2V0.25H-0.7Z","M-1,0H-0.7M-0.5,0H-0.3M0.3,0H0.5M0.7,0H1M0,-0.3L0.3,0.25H-0.3Z"]},"legend":{"orient":"none","legendX":5,"legendY":9,"title":null,"symbolSize":144,"symbolStrokeColor":"#111","symbolStrokeWidth":1.2,"symbolFillColor":"#111","rowPadding":1}}}}
]
}
],
"config":{
"view":{"stroke":null},
"axis":{"domainColor":"#111","domainWidth":1.4,"tickColor":"#111","tickSize":2.5,"tickWidth":1,"labelFont":"Liberation Serif","labelFontWeight":"bold","labelFontSize":5.5,"labelColor":"#111","labelPadding":1.5,"titleFont":"Noto Sans CJK SC","titleFontSize":4,"titleColor":"#999","titleFontWeight":"normal","grid":false,"labelFlush":false,"labelOverlap":false},
"legend":{"labelFont":"Noto Sans CJK SC","labelFontSize":4,"labelColor":"#999"},
"title":{"font":"Noto Sans CJK SC"}
}
}
